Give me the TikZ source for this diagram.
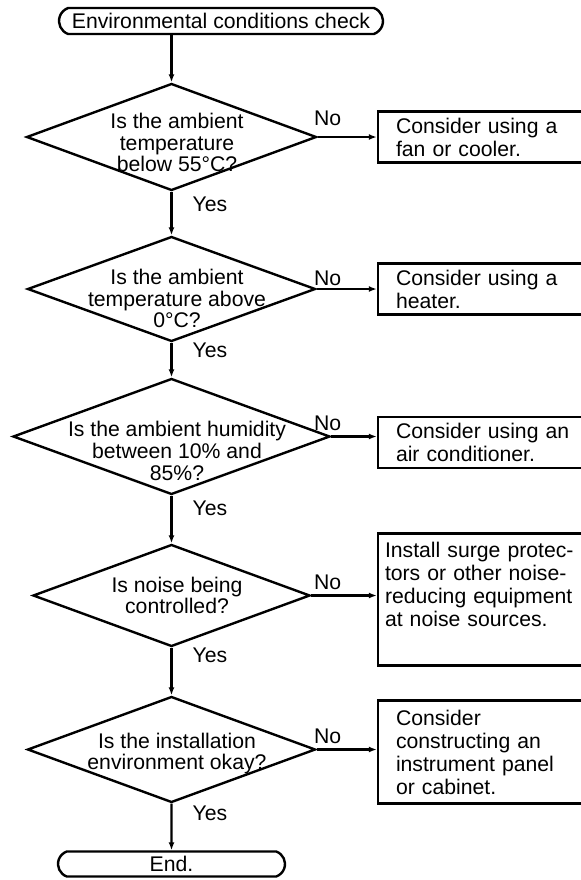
\documentclass[tikz,border=0pt]{standalone}
\usepackage{fontspec}
\setmainfont{Liberation Sans}
\usetikzlibrary{positioning,shapes.geometric,shapes.misc,arrows.meta}

\tikzset{
  terminal/.style={rounded rectangle, rounded rectangle arc length=140, draw, line width=1.2pt, inner sep=0pt},
  decision/.style={diamond, draw, line width=1.2pt, inner sep=0pt},
  question/.style={align=center, inner sep=0pt, xshift=2.75pt},
  action/.style={rectangle, draw, line width=1.2pt, align=left, text width=90pt, inner xsep=9pt, inner ysep=0pt, minimum height=25.5pt, font=\fontsize{10.6}{11.5}\selectfont},
  flow/.style={-{Latex[length=4pt,width=3pt]}, line width=1.2pt},
  nolab/.style={anchor=base west, inner sep=0pt, xshift=-32pt, yshift=3.2pt},
  yeslab/.style={anchor=base west, inner sep=0pt, xshift=10pt}
}

\begin{document}
\begin{tikzpicture}[node distance=76pt, font=\fontsize{10.6}{10.8}\selectfont]
\useasboundingbox (-85.75pt,-371.5pt) rectangle (204.25pt,68.5pt);

\node (d1) [decision, minimum width=145pt, minimum height=53.5pt] {};
\node (d2) [decision, minimum width=144pt, minimum height=52.5pt, below of=d1] {};
\node (d3) [decision, minimum width=158.5pt, minimum height=58pt, below of=d2, yshift=2.25pt] {};
\node (d4) [decision, minimum width=138.5pt, minimum height=51pt, below of=d3, yshift=-3.5pt] {};
\node (d5) [decision, minimum width=144pt, minimum height=53pt, below of=d4, yshift=-1pt] {};

\node (start) [terminal, minimum width=162pt, minimum height=13pt, above of=d1, node distance=58pt, xshift=24.75pt] {Environmental conditions check};
\node (stop) [terminal, minimum width=113.5pt, minimum height=12.5pt, below of=d5, node distance=57.25pt] {End.};

\node (q1) [question, yshift=-2.9pt] at (d1) {Is the ambient\\temperature\\below 55°C?};
\node (q2) [question, yshift=-4.9pt] at (d2) {Is the ambient\\temperature above\\0°C?};
\node (q3) [question, yshift=-7.2pt] at (d3) {Is the ambient humidity\\between 10\% and\\85\%?};
\node (q4) [question] at (d4) {Is noise being\\controlled?};
\node (q5) [question, yshift=-2pt] at (d5) {Is the installation\\environment okay?};

\node (fan) [action, right of=d1, node distance=157.25pt] {Consider using a\\fan or cooler.};
\node (heater) [action, right of=d2, node distance=157.25pt] {Consider using a\\heater.};
\node (aircon) [action, right of=d3, node distance=157.25pt, yshift=-3pt] {Consider using an\\air conditioner.};
\node (surge) [action, right of=d4, node distance=157.25pt, yshift=-2pt, inner xsep=3.5pt, text width=101pt, minimum height=66pt, text depth=50.15pt] {Install surge protec-\\tors or other noise-\\reducing equipment\\at noise sources.};
\node (panel) [action, right of=d5, node distance=157.25pt, yshift=-1.25pt, minimum height=51.5pt] {Consider\\constructing an\\instrument panel\\or cabinet.};

\draw[flow] (start.south -| d1) -- (d1);
\draw[flow] (d1) -- node[yeslab, pos=0, yshift=-9.8pt] {Yes} (d2);
\draw[flow] (d2) -- node[yeslab, pos=0, yshift=-7.3pt] {Yes} (d3);
\draw[flow] (d3) -- node[yeslab, pos=0, yshift=-9.8pt] {Yes} (d4);
\draw[flow] (d4) -- node[yeslab, pos=0, yshift=-7.3pt] {Yes} (d5);
\draw[flow] (d5) -- node[yeslab, pos=0, yshift=-8.3pt] {Yes} (stop);

\draw[flow] (d1) -- node[nolab, pos=1, yshift=2.5pt] {No} (d1 -| fan.west);
\draw[flow] (d2) -- node[nolab, pos=1, yshift=-1.2pt] {No} (d2 -| heater.west);
\draw[flow] (d3) -- node[nolab, pos=1] {No} (d3 -| aircon.west);
\draw[flow] (d4) -- node[nolab, pos=1] {No} (d4 -| surge.west);
\draw[flow] (d5) -- node[nolab, pos=1] {No} (d5 -| panel.west);

\end{tikzpicture}
\end{document}
